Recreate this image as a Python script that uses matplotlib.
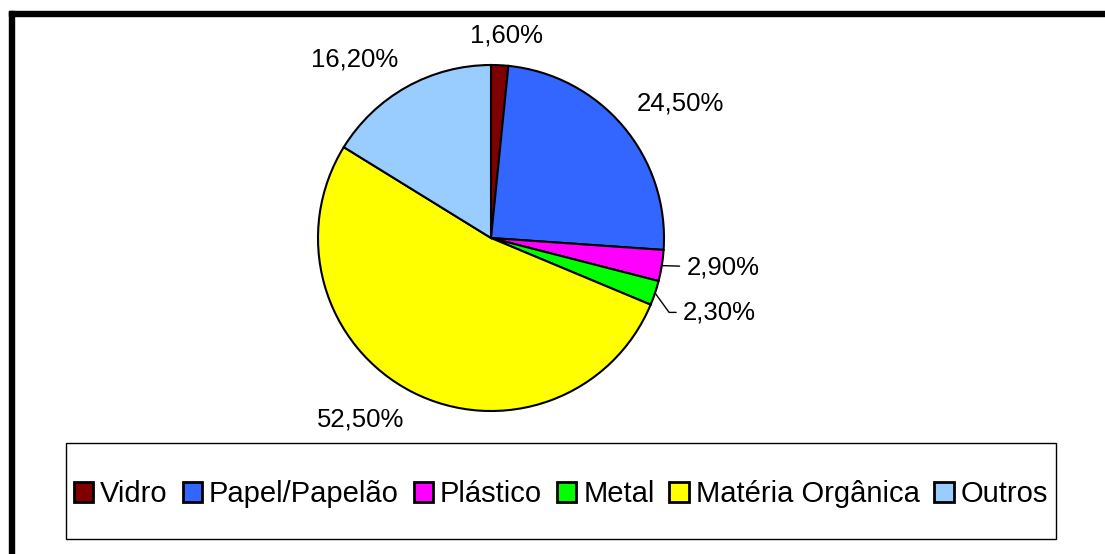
import numpy as np
import matplotlib
matplotlib.use("Agg")
import matplotlib.pyplot as plt
from matplotlib.patches import Rectangle

plt.rcParams['font.family'] = ['Liberation Sans', 'DejaVu Sans']

categories = ["Vidro", "Papel/Papelão", "Plástico", "Metal", "Matéria Orgânica", "Outros"]
values = [1.6, 24.5, 2.9, 2.3, 52.5, 16.2]
labels = ["1,60%", "24,50%", "2,90%", "2,30%", "52,50%", "16,20%"]
colors = ["#800000", "#3366FF", "#FF00FF", "#00FF00", "#FFFF00", "#99CCFF"]

W, H = 1105, 554
fig = plt.figure(figsize=(W / 100, H / 100), dpi=100)
fig.patch.set_facecolor("white")

# pie centre (491, 238) px, radius 173 px
cx, cy, R = 491, 238, 173
half = 1.5 * R
ax = fig.add_axes([(cx - half) / W, (H - cy - half) / H, 2 * half / W, 2 * half / H])

wedges, _ = ax.pie(values, colors=colors, startangle=90, counterclock=False,
                   wedgeprops=dict(edgecolor="black", linewidth=1.5))
ax.set_xlim(-1.5, 1.5)
ax.set_ylim(-1.5, 1.5)
ax.set_aspect("equal")
ax.axis("off")

# data labels (small slices get leader lines)
leader = {2: ((1.13, -0.17), "arc3"),
          3: ((1.11, -0.43), "angle,angleA=0,angleB=-54,rad=0")}
for i, (w, lab) in enumerate(zip(wedges, labels)):
    ang = np.deg2rad((w.theta1 + w.theta2) / 2)
    x, y = np.cos(ang), np.sin(ang)
    if i in leader:
        (tx, ty), conn = leader[i]
        ax.annotate(lab, xy=(x, y), xytext=(tx, ty), ha="left", va="center",
                    fontsize=18.5,
                    arrowprops=dict(arrowstyle="-", color="black", lw=1,
                                    shrinkA=3, shrinkB=0, connectionstyle=conn))
        continue
    ax_x, ax_y = 1.1 * x, 1.1 * y
    ha = "left" if x > 0.2 else ("right" if x < -0.2 else "center")
    va = "bottom" if y > 0 else "top"
    if ha == "center":
        ax_x += 0.035
    ax.text(ax_x, ax_y, lab, ha=ha, va=va, fontsize=18.5)

# legend box drawn separately (wide vertical padding, narrow horizontal)
fig.patches.append(Rectangle((66 / W, 1 - 539 / H), (1056 - 66) / W, (539 - 443) / H,
                             transform=fig.transFigure, facecolor="white",
                             edgecolor="black", linewidth=1.0, zorder=0))
leg = fig.legend(wedges, categories, loc="center",
                 bbox_to_anchor=((66 + 1056) / 2 / W, 1 - ((443 + 539) / 2 + 3) / H),
                 ncol=6, fontsize=21, frameon=False,
                 handlelength=0.66, handleheight=0.66,
                 handletextpad=0.25, columnspacing=0.5, borderpad=0,
                 borderaxespad=0)
for h in leg.legend_handles:
    h.set_linewidth(2)

# thick outer frame (top and left)
fig.patches.append(Rectangle((9 / W, 1 - 16 / H), 1 - 9 / W, 5 / H,
                             transform=fig.transFigure, color="black"))
fig.patches.append(Rectangle((9 / W, 0), 4.5 / W, 1 - 11 / H,
                             transform=fig.transFigure, color="black"))

fig.savefig("out.png", dpi=100)
